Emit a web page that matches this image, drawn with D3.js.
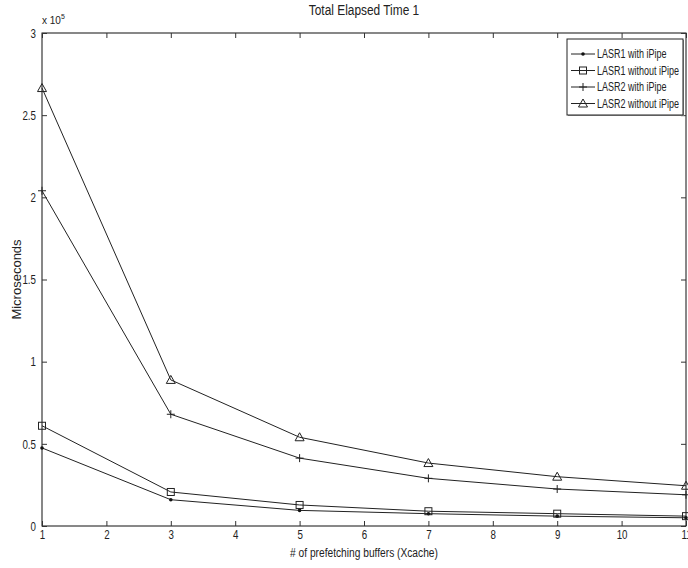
<!DOCTYPE html>
<html>
<head>
<meta charset="utf-8">
<script src="https://cdn.jsdelivr.net/npm/d3@7"></script>
<style>
body { margin:0; background:#fff; }
text { font-family: "Liberation Sans", Arial, sans-serif; fill:#222; }
</style>
</head>
<body>
<script>
// data
var xVals = [1, 3, 5, 7, 9, 11];
var lasr1With    = [47500, 16000, 9500, 7500, 6000, 5000];
var lasr1Without = [61000, 20700, 12800, 9000, 7500, 6000];
var lasr2With    = [204000, 68000, 41300, 29000, 22500, 19000];
var lasr2Without = [266500, 88900, 54000, 38300, 30000, 24500];
var seriesNames = ["LASR1 with iPipe", "LASR1 without iPipe", "LASR2 with iPipe", "LASR2 without iPipe"];
var markers = ["dot", "square", "plus", "triangle"];
var xTicks = [1,2,3,4,5,6,7,8,9,10,11];
var yTicks = [0, 50000, 100000, 150000, 200000, 250000, 300000];

var width = 688, height = 568;
var mLeft = 42, mRight = 686, mTop = 33, mBottom = 526;

var svg = d3.select("body").append("svg")
  .attr("width", width).attr("height", height);

var x = d3.scaleLinear().domain([1, 11]).range([mLeft, mRight]);
var y = d3.scaleLinear().domain([0, 300000]).range([mBottom, mTop]);

// squeeze text a bit, the original font is narrow
function narrow(sel, f) {
  sel.each(function(){
    var w = this.getComputedTextLength();
    d3.select(this).attr("textLength", w * f).attr("lengthAdjust", "spacingAndGlyphs");
  });
}

// box
svg.append("rect").attr("x", mLeft).attr("y", mTop)
  .attr("width", mRight - mLeft).attr("height", mBottom - mTop)
  .attr("fill", "none").attr("stroke", "#111").attr("stroke-width", 1);

// axes with inward ticks
var fmtY = function(d){ return d3.format("~g")(d / 1e5); };
var ax = svg.append("g").attr("transform", "translate(0," + mBottom + ")")
  .call(d3.axisBottom(x).tickValues(xTicks).tickSize(-5).tickPadding(4).tickFormat(d3.format("d")));
var axTop = svg.append("g").attr("transform", "translate(0," + mTop + ")")
  .call(d3.axisTop(x).tickValues(xTicks).tickSize(-5).tickFormat(""));
var ay = svg.append("g").attr("transform", "translate(" + mLeft + ",0)")
  .call(d3.axisLeft(y).tickValues(yTicks).tickSize(-5).tickPadding(6).tickFormat(fmtY));
var ayR = svg.append("g").attr("transform", "translate(" + mRight + ",0)")
  .call(d3.axisRight(y).tickValues(yTicks).tickSize(-5).tickFormat(""));
[ax, axTop, ay, ayR].forEach(function(g){
  g.select(".domain").remove();
  g.selectAll("line").attr("stroke", "#333");
  g.selectAll("text").style("font-size", "13px").attr("fill", "#333")
    .style("font-family", '"Liberation Sans", Arial, sans-serif');
  narrow(g.selectAll("text"), 0.75);
});

// exponent
var ex = svg.append("text").attr("x", mLeft).attr("y", 24).style("font-size", "10px").attr("fill", "#333");
ex.append("tspan").text("x 10");
ex.append("tspan").attr("dy", -5).style("font-size", "7px").text("5");

// title and labels
var title = svg.append("text").attr("x", 364).attr("y", 15).attr("text-anchor", "middle")
  .style("font-size", "14px").text("Total Elapsed Time 1");
narrow(title, 0.85);
var xl = svg.append("text").attr("x", 364).attr("y", 557).attr("text-anchor", "middle")
  .style("font-size", "12px").text("# of prefetching buffers (Xcache)");
narrow(xl, 0.85);
svg.append("text").attr("transform", "translate(21," + ((mTop + mBottom) / 2) + ") rotate(-90)")
  .attr("text-anchor", "middle").style("font-size", "13px").text("Microseconds");

var allSeries = [lasr1With, lasr1Without, lasr2With, lasr2Without];

function drawMarker(g, type, cx, cy) {
  if (type == "dot") {
    g.append("circle").attr("cx", cx).attr("cy", cy).attr("r", 1.8).attr("fill", "#111");
  } else if (type == "square") {
    g.append("rect").attr("x", cx - 3.5).attr("y", cy - 3.5).attr("width", 7).attr("height", 7)
      .attr("fill", "none").attr("stroke", "#222");
  } else if (type == "plus") {
    g.append("path").attr("d", "M" + (cx - 4) + "," + cy + "H" + (cx + 4) + "M" + cx + "," + (cy - 4) + "V" + (cy + 4))
      .attr("stroke", "#222").attr("fill", "none");
  } else {
    g.append("path").attr("d", "M" + cx + "," + (cy - 4.5) + "L" + (cx + 4.5) + "," + (cy + 3.5) + "L" + (cx - 4.5) + "," + (cy + 3.5) + "Z")
      .attr("stroke", "#222").attr("fill", "none");
  }
}

var line = d3.line().x(function(d){ return x(d[0]); }).y(function(d){ return y(d[1]); });
var plot = svg.append("g");
allSeries.forEach(function(vals, i){
  var pts = xVals.map(function(xv, j){ return [xv, vals[j]]; });
  plot.append("path").datum(pts).attr("d", line)
    .attr("fill", "none").attr("stroke", "#222").attr("stroke-width", 1);
  pts.forEach(function(p){ drawMarker(plot, markers[i], x(p[0]), y(p[1])); });
});

// legend
var lg = svg.append("g");
var lx = 567, ly = 39, lw = 116, lh = 76;
lg.append("rect").attr("x", lx + 1).attr("y", ly + 1).attr("width", lw).attr("height", lh).attr("fill", "#999");
lg.append("rect").attr("x", lx).attr("y", ly).attr("width", lw).attr("height", lh)
  .attr("fill", "#fff").attr("stroke", "#222");
seriesNames.forEach(function(name, i){
  var yy = ly + 15 + i * 16.5;
  lg.append("line").attr("x1", lx + 4).attr("x2", lx + 28).attr("y1", yy).attr("y2", yy).attr("stroke", "#222");
  drawMarker(lg, markers[i], lx + 16, yy);
  var t = lg.append("text").attr("x", lx + 30).attr("y", yy + 4).style("font-size", "12px").text(name);
  narrow(t, 0.75);
});
</script>
</body>
</html>
